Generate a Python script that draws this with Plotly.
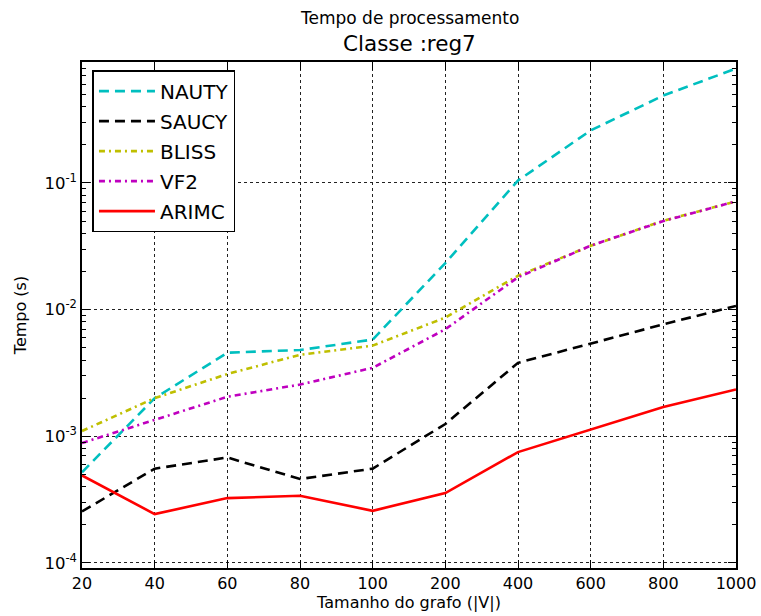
import plotly.graph_objects as go

sizes = ["20", "40", "60", "80", "100", "200", "400", "600", "800", "1000"]
nauty = [5.2e-4, 2.0e-3, 4.57e-3, 4.8e-3, 5.8e-3, 0.0233, 0.1045, 0.26, 0.49, 0.80]
saucy = [2.55e-4, 5.55e-4, 6.8e-4, 4.6e-4, 5.55e-4, 1.25e-3, 3.8e-3, 5.4e-3, 7.65e-3, 0.0107]
bliss = [1.1e-3, 2.0e-3, 3.1e-3, 4.4e-3, 5.2e-3, 8.65e-3, 0.0185, 0.0319, 0.0503, 0.0716]
vf2 = [8.85e-4, 1.35e-3, 2.05e-3, 2.56e-3, 3.47e-3, 7.0e-3, 0.018, 0.032, 0.050, 0.0716]
arimc = [4.9e-4, 2.43e-4, 3.25e-4, 3.39e-4, 2.58e-4, 3.56e-4, 7.5e-4, 1.13e-3, 1.7e-3, 2.34e-3]

ytickvals = [1e-4, 1e-3, 1e-2, 1e-1]
yticktext = ["10<sup>-4</sup>", "10<sup>-3</sup>", "10<sup>-2</sup>", "10<sup>-1</sup>"]

series = [
    ("NAUTY", nauty, "#00BFBF", "10px,6px"),
    ("SAUCY", saucy, "#000000", "10px,6px"),
    ("BLISS", bliss, "#BFBF00", "6px,4px,2px,4px"),
    ("VF2", vf2, "#BF00BF", "6px,4px,2px,4px"),
    ("ARIMC", arimc, "#FF0000", "solid"),
]

fig = go.Figure()
for name, vals, color, dash in series:
    fig.add_trace(go.Scatter(
        x=sizes, y=vals, mode="lines", name=name, legendgroup=name,
        line=dict(color=color, width=2.6, dash=dash),
    ))

font_family = "DejaVu Sans"
fig.update_layout(
    width=761, height=616,
    margin=dict(l=82, r=25, t=62, b=48, autoexpand=False),
    paper_bgcolor="white", plot_bgcolor="white",
    font=dict(family=font_family, color="black"),
    showlegend=True,
    legend=dict(
        x=0.016, y=0.984, xanchor="left", yanchor="top",
        bordercolor="black", borderwidth=1.5, bgcolor="white",
        font=dict(size=20, family=font_family),
        tracegroupgap=1, itemwidth=56,
    ),
    annotations=[
        dict(text="Tempo de processamento", x=0.5, y=1.0, xref="paper", yref="paper",
             yanchor="middle", yshift=44, showarrow=False, font=dict(size=17)),
        dict(text="Classe :reg7", x=0.5, y=1.0, xref="paper", yref="paper",
             yanchor="middle", yshift=19, showarrow=False, font=dict(size=21.5)),
    ],
)

fig.update_xaxes(
    type="category", range=[0, 9], automargin=False,
    showline=True, linecolor="black", linewidth=1.5, mirror="ticks",
    ticks="inside", ticklen=8, tickcolor="black",
    showgrid=True, gridcolor="#222222", griddash="dot", gridwidth=1,
    tickfont=dict(size=16), zeroline=False,
    title=dict(text="Tamanho do grafo (|V|)", font=dict(size=16), standoff=2),
)
fig.update_yaxes(
    type="log", range=[-4.04, -0.045], automargin=False,
    tickvals=ytickvals, ticktext=yticktext,
    showline=True, linecolor="black", linewidth=1.5, mirror="ticks",
    ticks="inside", ticklen=8, tickcolor="black",
    showgrid=True, gridcolor="#222222", griddash="dot", gridwidth=1,
    tickfont=dict(size=16.5), zeroline=False,
    minor=dict(ticks="inside", ticklen=4, tickcolor="black", showgrid=False,
               tickvals=[m * 10 ** e for e in range(-5, 0) for m in range(2, 10)]),
    title=dict(text="Tempo (s)", font=dict(size=16), standoff=14),
)

fig.write_html("out.html", config={"displayModeBar": False},
               post_script="document.body.style.margin='0px';")
